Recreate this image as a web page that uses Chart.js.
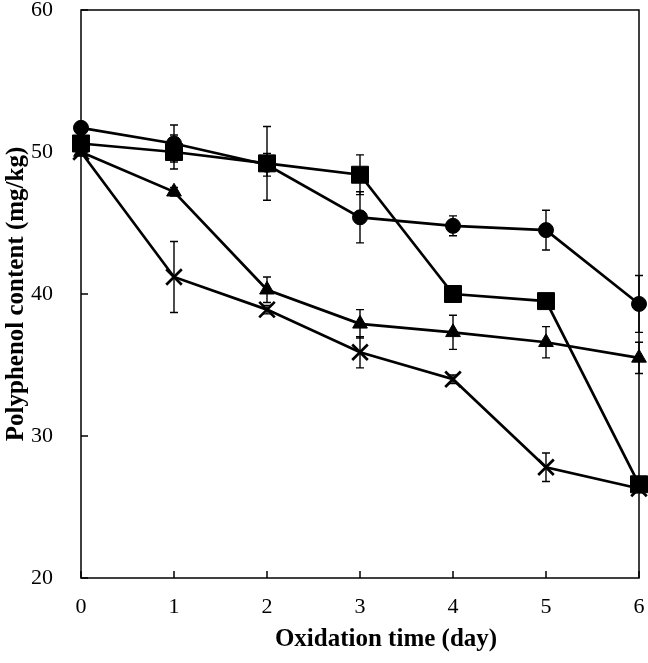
<!DOCTYPE html>
<html>
<head>
<meta charset="utf-8">
<script src="https://cdn.jsdelivr.net/npm/chart.js@4.4.1/dist/chart.umd.min.js"></script>
<style>
  html, body { margin: 0; padding: 0; background: #fff; }
  #wrap { width: 648px; height: 663px; }
</style>
</head>
<body>
<div id="wrap"><canvas id="oxChart" width="648" height="663"></canvas></div>
<script>
const days = [0, 1, 2, 3, 4, 5, 6];
const dayTicks = ["0", "1", "2", "3", "4", "5", "6"];
const contentTicks = [20, 30, 40, 50, 60];
const xTitle = "Oxidation time (day)";
const yTitle = "Polyphenol content (mg/kg)";

const circleVals = [51.7, 50.6, 49.1, 45.4, 44.8, 44.5, 39.3];
const circleErr = [0.3, 1.3, 0.8, 1.8, 0.7, 1.4, 2.0];
const squareVals = [50.6, 50.0, 49.2, 48.4, 40.0, 39.5, 26.6];
const squareErr = [0.3, 1.2, 2.6, 1.4, 0.3, 0.3, 0.5];
const triangleVals = [50.0, 47.2, 40.3, 37.9, 37.3, 36.6, 35.5];
const triangleErr = [0.2, 0.3, 0.9, 1.0, 1.2, 1.1, 1.1];
const crossVals = [50.0, 41.2, 38.9, 35.9, 34.0, 27.8, 26.3];
const crossErr = [0.2, 2.5, 0.3, 1.1, 0.3, 1.0, 0.3];

function points(vals) {
  return days.map((d, i) => ({ x: d, y: vals[i] }));
}

function series(vals, errs, style, radius) {
  return {
    data: points(vals),
    errors: errs,
    borderColor: "#000",
    backgroundColor: "#000",
    borderWidth: 2.7,
    pointStyle: style,
    pointRadius: radius,
    pointBorderWidth: style === "crossRot" ? 2.7 : 1,
    pointBorderColor: "#000",
    pointBackgroundColor: "#000",
    tension: 0,
    clip: false,
  };
}

const tickFont = { family: "'Liberation Serif', 'Times New Roman', serif", size: 22 };
const titleFont = { family: "'Liberation Serif', 'Times New Roman', serif", size: 25, weight: "bold" };

// error bars go under the lines and markers
const errorBars = {
  id: "errorBars",
  beforeDatasetsDraw(chart) {
    const { ctx, scales } = chart;
    ctx.save();
    ctx.strokeStyle = "#000";
    ctx.lineWidth = 1.4;
    chart.data.datasets.forEach((ds) => {
      ds.data.forEach((p, i) => {
        const e = ds.errors[i];
        const px = scales.x.getPixelForValue(p.x);
        const top = scales.y.getPixelForValue(p.y + e);
        const bot = scales.y.getPixelForValue(p.y - e);
        ctx.beginPath();
        ctx.moveTo(px, top);
        ctx.lineTo(px, bot);
        ctx.moveTo(px - 4, top);
        ctx.lineTo(px + 4, top);
        ctx.moveTo(px - 4, bot);
        ctx.lineTo(px + 4, bot);
        ctx.stroke();
      });
    });
    ctx.restore();
  },
};

// box round the plot, inward tick marks, and the x title (sits right of centre in the original)
const frame = {
  id: "frame",
  beforeDatasetsDraw(chart) {
    const { ctx, chartArea: a, scales } = chart;
    ctx.save();
    ctx.strokeStyle = "#000";
    ctx.lineWidth = 1.5;
    ctx.strokeRect(a.left, a.top, a.right - a.left, a.bottom - a.top);
    ctx.beginPath();
    days.forEach((d) => {
      const px = scales.x.getPixelForValue(d);
      ctx.moveTo(px, a.bottom);
      ctx.lineTo(px, a.bottom - 7);
    });
    contentTicks.forEach((v) => {
      const py = scales.y.getPixelForValue(v);
      ctx.moveTo(a.left, py);
      ctx.lineTo(a.left + 7, py);
    });
    ctx.stroke();

    ctx.fillStyle = "#000";
    ctx.font = `bold ${titleFont.size}px ${titleFont.family}`;
    ctx.textAlign = "center";
    ctx.textBaseline = "middle";
    ctx.fillText(xTitle, (a.left + a.right) / 2 + 26, a.bottom + 62);
    ctx.restore();
  },
};

const ctx = document.getElementById("oxChart").getContext("2d");
// eslint-disable-next-line no-undef
new Chart(ctx, {
  type: "line",
  data: {
    datasets: [
      series(circleVals, circleErr, "circle", 7.5),
      series(squareVals, squareErr, "rect", 12),
      series(triangleVals, triangleErr, "triangle", 8.5),
      series(crossVals, crossErr, "crossRot", 11),
    ],
  },
  options: {
    responsive: false,
    animation: false,
    layout: { autoPadding: false, padding: { top: 10, right: 9, left: 0, bottom: 0 } },
    plugins: { legend: { display: false }, tooltip: { enabled: false } },
    scales: {
      x: {
        type: "linear",
        min: 0,
        max: 6,
        grid: { display: false, drawTicks: false },
        border: { display: false },
        ticks: {
          stepSize: 1,
          padding: 16,
          color: "#000",
          font: tickFont,
          callback: (v) => dayTicks[v],
        },
        title: { display: false, text: xTitle },
        afterFit: (s) => {
          s.height = 85;
          s.paddingLeft = 0;
          s.paddingRight = 0;
        },
      },
      y: {
        min: 20,
        max: 60,
        grid: { display: false, drawTicks: false },
        border: { display: false },
        ticks: {
          stepSize: 10,
          padding: 28,
          color: "#000",
          font: tickFont,
        },
        title: {
          display: true,
          text: yTitle,
          color: "#000",
          font: titleFont,
          padding: { top: 2, bottom: 0 },
        },
        afterFit: (s) => {
          s.width = 81;
          s.paddingTop = 0;
          s.paddingBottom = 0;
        },
      },
    },
  },
  plugins: [errorBars, frame],
});
</script>
</body>
</html>
